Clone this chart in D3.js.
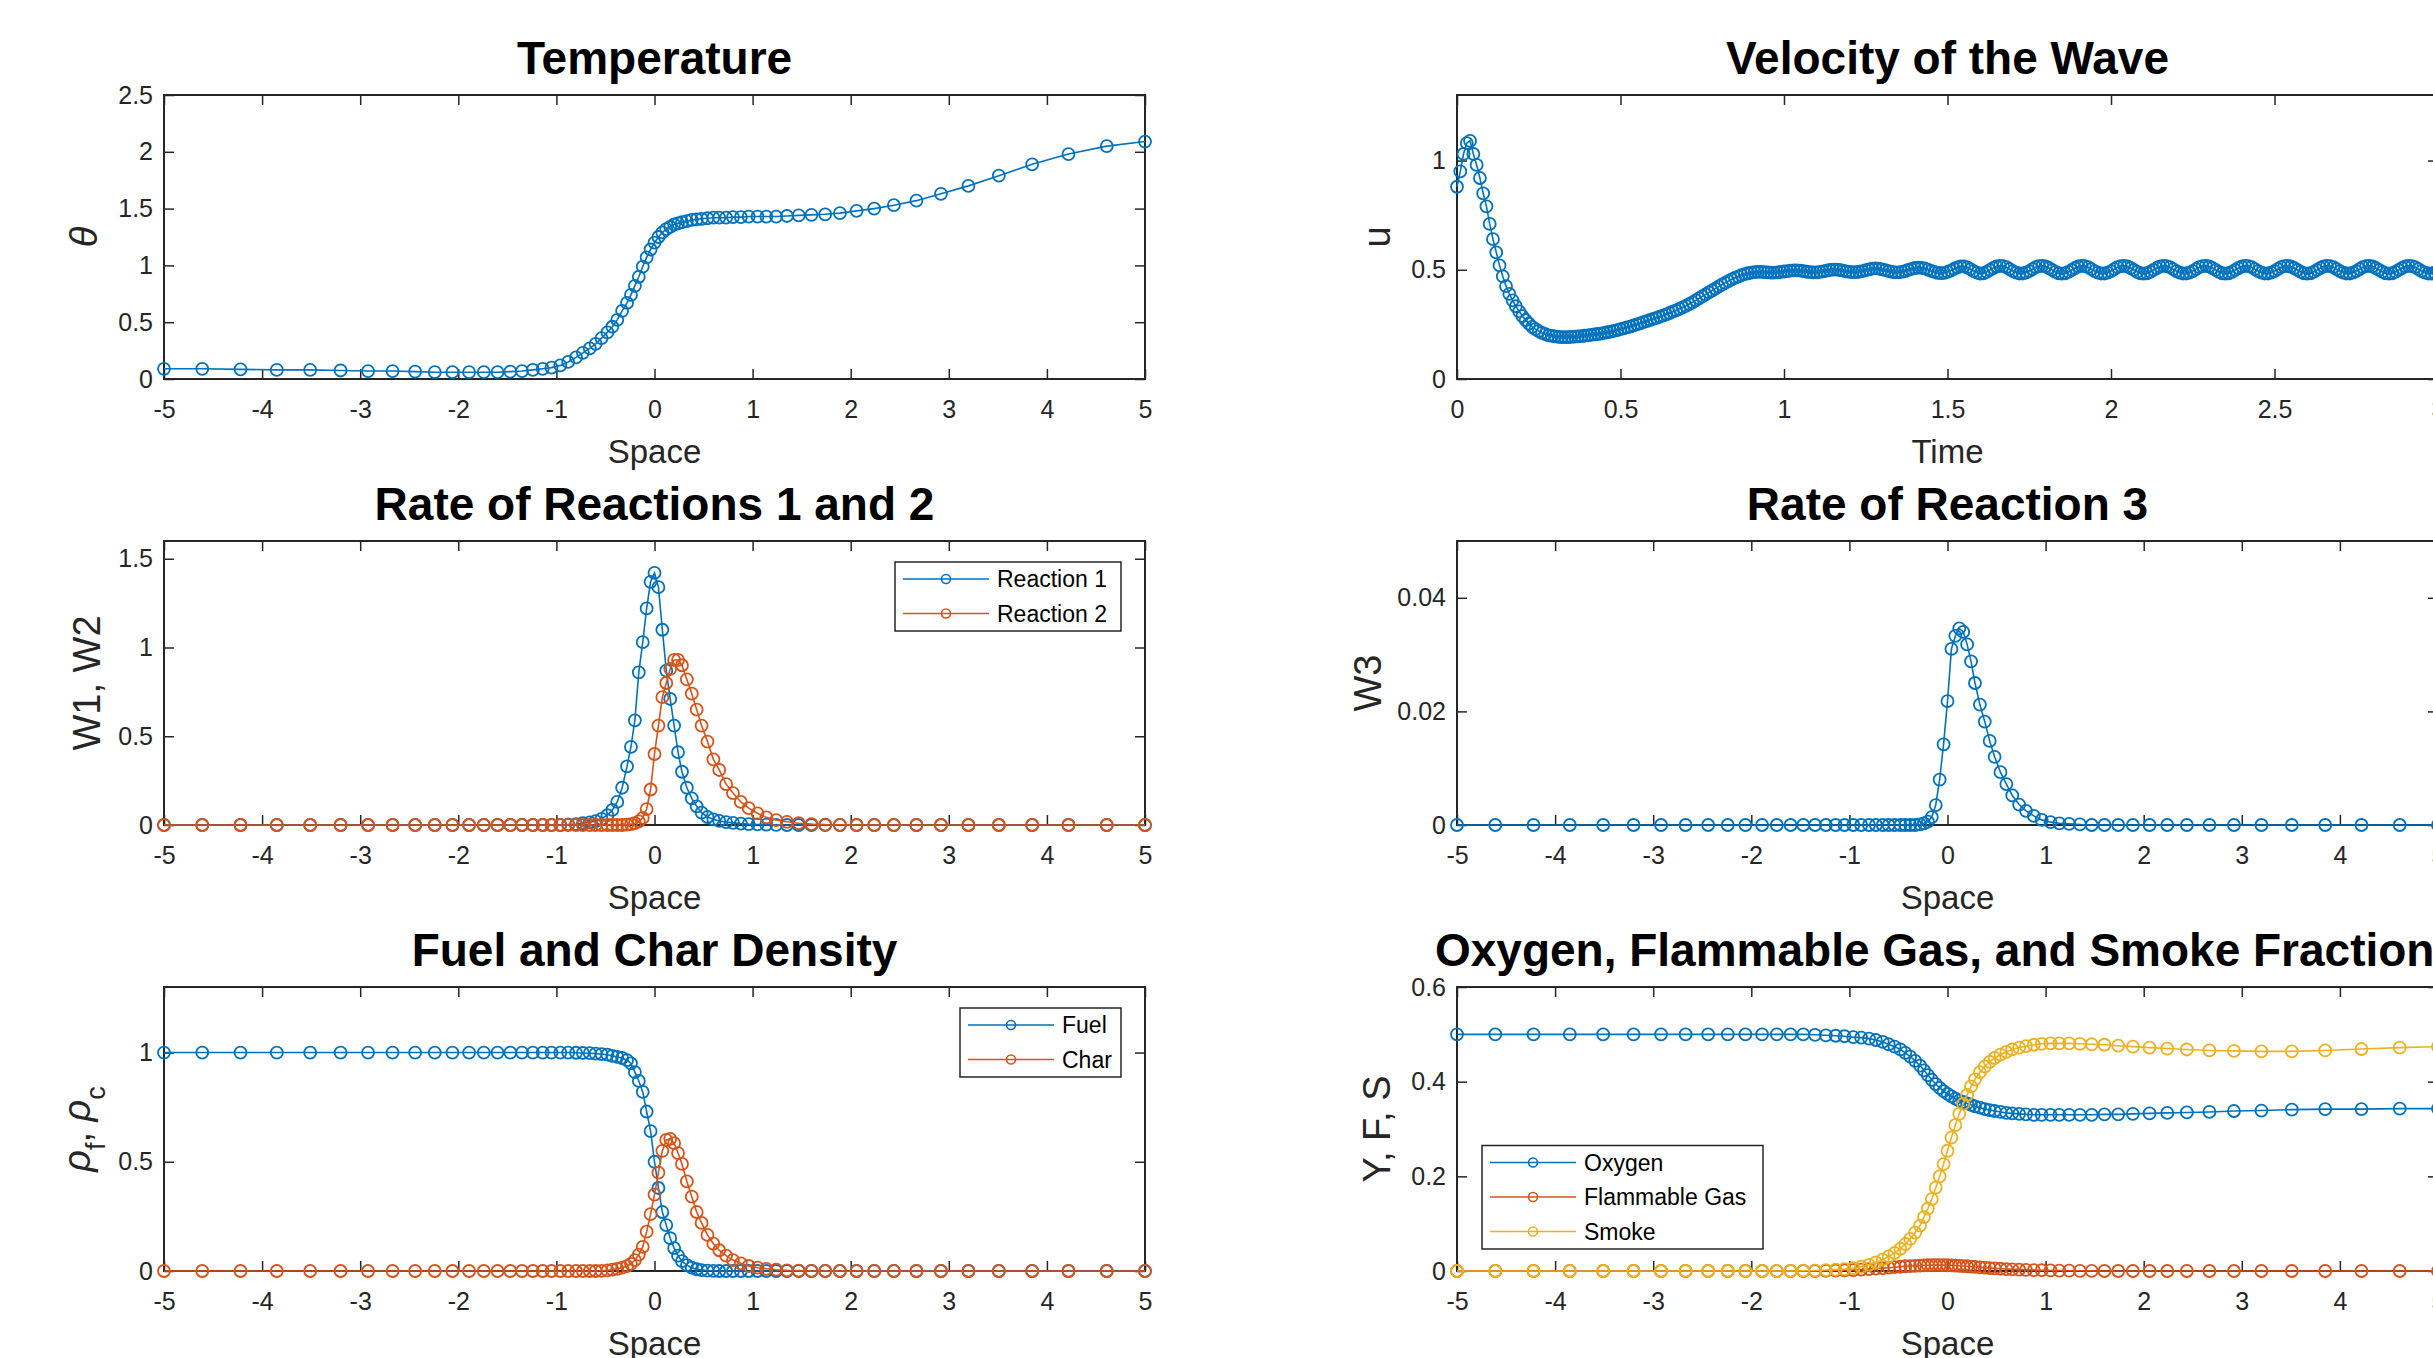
<!DOCTYPE html>
<html>
<head>
<meta charset="utf-8">
<script src="https://cdnjs.cloudflare.com/ajax/libs/d3/7.8.5/d3.min.js"></script>
<style>
body { margin: 0; background: #fff; }
svg text { font-family: "Liberation Sans", Arial, Helvetica, sans-serif; }
</style>
</head>
<body>
<script>
// 0.1 shared space grid (dense near the front)
var space = [-5, -4.61, -4.22, -3.85, -3.51, -3.2, -2.92, -2.67, -2.44, -2.24,
  -2.06, -1.89, -1.74, -1.6, -1.47, -1.35, -1.24, -1.14, -1.05, -0.96,
  -0.88, -0.8, -0.73, -0.66, -0.6, -0.54, -0.48, -0.43, -0.38, -0.33,
  -0.28, -0.24, -0.2, -0.16, -0.12, -0.08, -0.04, 0, 0.04, 0.08,
  0.12, 0.16, 0.2, 0.24, 0.28, 0.33, 0.38, 0.43, 0.48, 0.54,
  0.6, 0.66, 0.73, 0.8, 0.88, 0.96, 1.05, 1.14, 1.24, 1.35,
  1.47, 1.6, 1.74, 1.89, 2.06, 2.24, 2.44, 2.67, 2.92, 3.2,
  3.51, 3.85, 4.22, 4.61, 5];

// 0.2 series on the space grid
var theta = [0.09, 0.09, 0.085, 0.08, 0.08, 0.075, 0.07, 0.07, 0.065, 0.06,
  0.06, 0.06, 0.06, 0.06, 0.065, 0.07, 0.08, 0.09, 0.1, 0.12,
  0.15, 0.19, 0.23, 0.27, 0.31, 0.36, 0.41, 0.46, 0.52, 0.6,
  0.67, 0.74, 0.82, 0.9, 0.99, 1.07, 1.14, 1.2, 1.25, 1.29,
  1.32, 1.34, 1.36, 1.37, 1.38, 1.39, 1.4, 1.405, 1.41, 1.415,
  1.42, 1.42, 1.42, 1.425, 1.425, 1.43, 1.43, 1.43, 1.43, 1.435,
  1.44, 1.445, 1.45, 1.46, 1.48, 1.5, 1.53, 1.57, 1.63, 1.7,
  1.79, 1.89, 1.98, 2.05, 2.09];

var w1 = [0, 0, 0, 0, 0, 0, 0, 0, 0, 0,
  0, 0, 0, 0, 0, 0, 0, 0, 0, 0,
  0.003, 0.005, 0.01, 0.015, 0.022, 0.035, 0.055, 0.085, 0.13, 0.21,
  0.33, 0.44, 0.59, 0.86, 1.03, 1.22, 1.37, 1.42, 1.34, 1.1,
  0.87, 0.71, 0.56, 0.41, 0.3, 0.21, 0.15, 0.105, 0.07, 0.045,
  0.032, 0.023, 0.016, 0.012, 0.008, 0.005, 0.003, 0.002, 0.001, 0,
  0, 0, 0, 0, 0, 0, 0, 0, 0, 0,
  0, 0, 0, 0, 0];

var w2 = [0, 0, 0, 0, 0, 0, 0, 0, 0, 0,
  0, 0, 0, 0, 0, 0, 0, 0, 0, 0,
  0, 0, 0, 0, 0, 0, 0, 0, 0, 0,
  0.002, 0.005, 0.01, 0.02, 0.04, 0.09, 0.2, 0.4, 0.56, 0.72,
  0.8, 0.88, 0.93, 0.93, 0.9, 0.82, 0.74, 0.65, 0.56, 0.47,
  0.37, 0.31, 0.23, 0.18, 0.13, 0.095, 0.066, 0.043, 0.028, 0.018,
  0.01, 0.005, 0.002, 0.001, 0, 0, 0, 0, 0, 0,
  0, 0, 0, 0, 0];

var w3 = [0, 0, 0, 0, 0, 0, 0, 0, 0, 0,
  0, 0, 0, 0, 0, 0, 0, 0, 0, 0,
  0, 0, 0, 0, 0, 0, 0, 0, 0, 0,
  0.0001, 0.0003, 0.0006, 0.0014, 0.0035, 0.008, 0.0142, 0.0218, 0.031, 0.0333,
  0.0346, 0.034, 0.0318, 0.0288, 0.025, 0.0212, 0.0182, 0.0148, 0.012, 0.0093,
  0.0072, 0.0052, 0.0036, 0.0025, 0.0016, 0.0009, 0.0005, 0.0003, 0.0002, 0.0001,
  0, 0, 0, 0, 0, 0, 0, 0, 0, 0,
  0, 0, 0, 0, 0];

var fuel = [1, 1, 1, 1, 1, 1, 1, 1, 1, 1,
  1, 1, 1, 1, 1, 1, 1, 1, 1, 1,
  1, 0.999, 0.998, 0.997, 0.995, 0.993, 0.99, 0.985, 0.98, 0.975,
  0.965, 0.95, 0.91, 0.87, 0.82, 0.73, 0.64, 0.5, 0.38, 0.27,
  0.21, 0.15, 0.105, 0.07, 0.045, 0.027, 0.015, 0.008, 0.004, 0.002,
  0.001, 0, 0, 0, 0, 0, 0, 0, 0, 0,
  0, 0, 0, 0, 0, 0, 0, 0, 0, 0,
  0, 0, 0, 0, 0];

var char = [0, 0, 0, 0, 0, 0, 0, 0, 0, 0,
  0, 0, 0, 0, 0, 0, 0, 0, 0, 0,
  0, 0, 0, 0, 0, 0.001, 0.003, 0.006, 0.01, 0.015,
  0.022, 0.033, 0.05, 0.075, 0.11, 0.18, 0.26, 0.35, 0.45, 0.55,
  0.6, 0.605, 0.585, 0.54, 0.49, 0.41, 0.34, 0.27, 0.22, 0.165,
  0.125, 0.095, 0.07, 0.05, 0.035, 0.023, 0.015, 0.01, 0.006, 0.003,
  0.0015, 0, 0, 0, 0, 0, 0, 0, 0, 0,
  0, 0, 0, 0, 0];

var oxygen = [0.5, 0.5, 0.5, 0.5, 0.5, 0.5, 0.5, 0.5, 0.5, 0.5,
  0.5, 0.5, 0.5, 0.5, 0.5, 0.499, 0.498, 0.497, 0.496, 0.494,
  0.493, 0.491, 0.488, 0.484, 0.479, 0.474, 0.468, 0.461, 0.453, 0.444,
  0.434, 0.424, 0.414, 0.404, 0.395, 0.387, 0.38, 0.374, 0.369, 0.364,
  0.36, 0.357, 0.354, 0.351, 0.348, 0.345, 0.342, 0.34, 0.338, 0.336,
  0.334, 0.333, 0.332, 0.331, 0.33, 0.33, 0.33, 0.33, 0.33, 0.33,
  0.33, 0.331, 0.331, 0.332, 0.333, 0.334, 0.335, 0.336, 0.338, 0.339,
  0.341, 0.342, 0.342, 0.343, 0.343];

var flammable = [0, 0, 0, 0, 0, 0, 0, 0, 0, 0,
  0, 0, 0, 0, 0, 0, 0.0005, 0.001, 0.0015, 0.002,
  0.003, 0.004, 0.005, 0.006, 0.007, 0.008, 0.009, 0.01, 0.0105, 0.011,
  0.0115, 0.012, 0.0122, 0.0124, 0.0125, 0.0125, 0.0124, 0.0122, 0.012, 0.0115,
  0.011, 0.0105, 0.01, 0.0093, 0.0086, 0.0078, 0.007, 0.0062, 0.0055, 0.0048,
  0.0041, 0.0035, 0.003, 0.0025, 0.002, 0.0016, 0.0012, 0.0009, 0.0006, 0.0004,
  0.0002, 0, 0, 0, 0, 0, 0, 0, 0, 0,
  0, 0, 0, 0, 0];

var smoke = [0, 0, 0, 0, 0, 0, 0, 0, 0, 0,
  0, 0, 0, 0, 0.0005, 0.001, 0.002, 0.003, 0.004, 0.006,
  0.009, 0.013, 0.018, 0.024, 0.031, 0.038, 0.047, 0.057, 0.068, 0.081,
  0.096, 0.114, 0.132, 0.152, 0.176, 0.2, 0.226, 0.254, 0.282, 0.308,
  0.332, 0.353, 0.372, 0.39, 0.405, 0.42, 0.432, 0.442, 0.45, 0.457,
  0.463, 0.468, 0.472, 0.475, 0.478, 0.48, 0.481, 0.481, 0.481, 0.48,
  0.479, 0.478, 0.476, 0.474, 0.472, 0.47, 0.468, 0.466, 0.465, 0.464,
  0.464, 0.466, 0.469, 0.472, 0.474];

// 0.3 wave velocity against time
var time = [0, 0.01, 0.02, 0.03, 0.04, 0.05, 0.06, 0.07, 0.08, 0.09,
  0.1, 0.11, 0.12, 0.13, 0.14, 0.15, 0.16, 0.17, 0.18, 0.19,
  0.2, 0.21, 0.22, 0.23, 0.24, 0.25, 0.26, 0.27, 0.28, 0.29,
  0.3, 0.31, 0.32, 0.33, 0.34, 0.35, 0.36, 0.37, 0.38, 0.39,
  0.4, 0.41, 0.42, 0.43, 0.44, 0.45, 0.46, 0.47, 0.48, 0.49,
  0.5, 0.51, 0.52, 0.53, 0.54, 0.55, 0.56, 0.57, 0.58, 0.59,
  0.6, 0.61, 0.62, 0.63, 0.64, 0.65, 0.66, 0.67, 0.68, 0.69,
  0.7, 0.71, 0.72, 0.73, 0.74, 0.75, 0.76, 0.77, 0.78, 0.79,
  0.8, 0.81, 0.82, 0.83, 0.84, 0.85, 0.86, 0.87, 0.88, 0.89,
  0.9, 0.91, 0.92, 0.93, 0.94, 0.95, 0.96, 0.97, 0.98, 0.99,
  1, 1.01, 1.02, 1.03, 1.04, 1.05, 1.06, 1.07, 1.08, 1.09,
  1.1, 1.11, 1.12, 1.13, 1.14, 1.15, 1.16, 1.17, 1.18, 1.19,
  1.2, 1.21, 1.22, 1.23, 1.24, 1.25, 1.26, 1.27, 1.28, 1.29,
  1.3, 1.31, 1.32, 1.33, 1.34, 1.35, 1.36, 1.37, 1.38, 1.39,
  1.4, 1.41, 1.42, 1.43, 1.44, 1.45, 1.46, 1.47, 1.48, 1.49,
  1.5, 1.51, 1.52, 1.53, 1.54, 1.55, 1.56, 1.57, 1.58, 1.59,
  1.6, 1.61, 1.62, 1.63, 1.64, 1.65, 1.66, 1.67, 1.68, 1.69,
  1.7, 1.71, 1.72, 1.73, 1.74, 1.75, 1.76, 1.77, 1.78, 1.79,
  1.8, 1.81, 1.82, 1.83, 1.84, 1.85, 1.86, 1.87, 1.88, 1.89,
  1.9, 1.91, 1.92, 1.93, 1.94, 1.95, 1.96, 1.97, 1.98, 1.99,
  2, 2.01, 2.02, 2.03, 2.04, 2.05, 2.06, 2.07, 2.08, 2.09,
  2.1, 2.11, 2.12, 2.13, 2.14, 2.15, 2.16, 2.17, 2.18, 2.19,
  2.2, 2.21, 2.22, 2.23, 2.24, 2.25, 2.26, 2.27, 2.28, 2.29,
  2.3, 2.31, 2.32, 2.33, 2.34, 2.35, 2.36, 2.37, 2.38, 2.39,
  2.4, 2.41, 2.42, 2.43, 2.44, 2.45, 2.46, 2.47, 2.48, 2.49,
  2.5, 2.51, 2.52, 2.53, 2.54, 2.55, 2.56, 2.57, 2.58, 2.59,
  2.6, 2.61, 2.62, 2.63, 2.64, 2.65, 2.66, 2.67, 2.68, 2.69,
  2.7, 2.71, 2.72, 2.73, 2.74, 2.75, 2.76, 2.77, 2.78, 2.79,
  2.8, 2.81, 2.82, 2.83, 2.84, 2.85, 2.86, 2.87, 2.88, 2.89,
  2.9, 2.91, 2.92, 2.93, 2.94, 2.95, 2.96, 2.97, 2.98, 2.99,
  3];

var velocity = [
  // 0.00 - 0.99
  0.88, 0.95, 1.03, 1.08, 1.09, 1.03, 0.98, 0.92, 0.85, 0.79,
  0.71, 0.64, 0.58, 0.52, 0.47, 0.425, 0.39, 0.36, 0.333, 0.31,
  0.288, 0.27, 0.253, 0.239, 0.228, 0.219, 0.211, 0.205, 0.2, 0.197,
  0.195, 0.193, 0.192, 0.192, 0.192, 0.193, 0.194, 0.195, 0.196, 0.198,
  0.2, 0.202, 0.204, 0.206, 0.208, 0.211, 0.214, 0.217, 0.22, 0.224,
  0.228, 0.232, 0.236, 0.24, 0.245, 0.25, 0.255, 0.26, 0.265, 0.27,
  0.275, 0.28, 0.285, 0.29, 0.296, 0.302, 0.308, 0.314, 0.321, 0.328,
  0.335, 0.343, 0.351, 0.36, 0.369, 0.378, 0.387, 0.396, 0.405, 0.414,
  0.423, 0.432, 0.44, 0.448, 0.456, 0.463, 0.469, 0.475, 0.48, 0.484,
  0.487, 0.489, 0.49, 0.49, 0.489, 0.488, 0.487, 0.487, 0.488, 0.49,
  // 1.00 - 1.59
  0.492, 0.494, 0.496, 0.497, 0.497, 0.496, 0.494, 0.491, 0.489, 0.488,
  0.488, 0.49, 0.493, 0.496, 0.499, 0.501, 0.501, 0.499, 0.496, 0.493,
  0.49, 0.489, 0.489, 0.491, 0.494, 0.498, 0.502, 0.505, 0.506, 0.505,
  0.502, 0.498, 0.494, 0.49, 0.488, 0.488, 0.49, 0.494, 0.499, 0.504,
  0.508, 0.51, 0.509, 0.506, 0.501, 0.495, 0.49, 0.486, 0.485, 0.486,
  0.49, 0.496, 0.504, 0.511, 0.515, 0.515, 0.511, 0.503, 0.494, 0.487,
  // 1.60 - 1.84
  0.482, 0.484, 0.49, 0.499, 0.508, 0.515, 0.518, 0.517, 0.512, 0.503, 0.494, 0.487, 0.483,
  0.483, 0.487, 0.494, 0.503, 0.512, 0.517, 0.518, 0.515, 0.508, 0.499, 0.49, 0.484,
  // 1.85 - 2.09
  0.482, 0.484, 0.49, 0.499, 0.508, 0.515, 0.518, 0.517, 0.512, 0.503, 0.494, 0.487, 0.483,
  0.483, 0.487, 0.494, 0.503, 0.512, 0.517, 0.518, 0.515, 0.508, 0.499, 0.49, 0.484,
  // 2.10 - 2.34
  0.482, 0.484, 0.49, 0.499, 0.508, 0.515, 0.518, 0.517, 0.512, 0.503, 0.494, 0.487, 0.483,
  0.483, 0.487, 0.494, 0.503, 0.512, 0.517, 0.518, 0.515, 0.508, 0.499, 0.49, 0.484,
  // 2.35 - 2.59
  0.482, 0.484, 0.49, 0.499, 0.508, 0.515, 0.518, 0.517, 0.512, 0.503, 0.494, 0.487, 0.483,
  0.483, 0.487, 0.494, 0.503, 0.512, 0.517, 0.518, 0.515, 0.508, 0.499, 0.49, 0.484,
  // 2.60 - 2.84
  0.482, 0.484, 0.49, 0.499, 0.508, 0.515, 0.518, 0.517, 0.512, 0.503, 0.494, 0.487, 0.483,
  0.483, 0.487, 0.494, 0.503, 0.512, 0.517, 0.518, 0.515, 0.508, 0.499, 0.49, 0.484,
  // 2.85 - 3.00
  0.482, 0.484, 0.49, 0.499, 0.508, 0.515, 0.518, 0.517, 0.512, 0.503, 0.494, 0.487, 0.483,
  0.483, 0.487, 0.494];

// 0.4 ticks
var spaceTicks = [-5, -4, -3, -2, -1, 0, 1, 2, 3, 4, 5];
var timeTicks = [0, 0.5, 1, 1.5, 2, 2.5, 3];

// 1. figure layout
var blue = '#0072BD', orange = '#D95319', yellow = '#EDB120';
var axisColor = '#262626';
var plotW = 981, plotH = 284, tickLen = 10, markerR = 6;
var colLeft = [164, 1457];
var rowTop = [95, 541, 987];

var svg = d3.select('body').append('svg')
  .attr('width', 2433)
  .attr('height', 1358)
  .style('display', 'block');
svg.append('rect').attr('width', 2433).attr('height', 1358).attr('fill', '#fff');

function drawPanel(p) {
  var g = svg.append('g').attr('transform', 'translate(' + p.left + ',' + p.top + ')');
  var x = d3.scaleLinear().domain(p.xDomain).range([0, plotW]);
  var y = d3.scaleLinear().domain(p.yDomain).range([plotH, 0]);
  var fmt = function (d) { return String(d); };

  // 1.1 inward ticks on four sides
  g.append('g').attr('transform', 'translate(0,' + plotH + ')')
    .call(d3.axisBottom(x).tickValues(p.xTicks).tickFormat(fmt).tickSizeInner(-tickLen).tickSizeOuter(0).tickPadding(21));
  g.append('g')
    .call(d3.axisTop(x).tickValues(p.xTicks).tickFormat('').tickSizeInner(-tickLen).tickSizeOuter(0));
  g.append('g')
    .call(d3.axisLeft(y).tickValues(p.yTicks).tickFormat(fmt).tickSizeInner(-tickLen).tickSizeOuter(0).tickPadding(11));
  g.append('g').attr('transform', 'translate(' + plotW + ',0)')
    .call(d3.axisRight(y).tickValues(p.yTicks).tickFormat('').tickSizeInner(-tickLen).tickSizeOuter(0));
  g.selectAll('.domain').remove();
  g.selectAll('.tick line').attr('stroke', axisColor).attr('stroke-width', 1.5);
  g.selectAll('.tick text').attr('fill', axisColor).style('font-size', '25px');

  // 1.2 the axes box
  g.append('rect')
    .attr('width', plotW).attr('height', plotH)
    .attr('fill', 'none').attr('stroke', axisColor).attr('stroke-width', 2);

  // 1.3 lines with circle markers
  p.series.forEach(function (s) {
    var pts = s.x.map(function (xv, i) { return [xv, s.y[i]]; });
    g.append('path').datum(pts)
      .attr('fill', 'none').attr('stroke', s.color).attr('stroke-width', 1.6)
      .attr('d', d3.line().x(function (d) { return x(d[0]); }).y(function (d) { return y(d[1]); }));
    g.append('g').selectAll('circle').data(pts).join('circle')
      .attr('cx', function (d) { return x(d[0]); })
      .attr('cy', function (d) { return y(d[1]); })
      .attr('r', markerR)
      .attr('fill', 'none').attr('stroke', s.color).attr('stroke-width', 1.8);
  });

  // 1.4 title and labels
  g.append('text')
    .attr('x', plotW / 2).attr('y', -21)
    .attr('text-anchor', 'middle')
    .style('font-size', '46px').style('font-weight', 'bold').attr('fill', '#000')
    .text(p.title);
  g.append('text')
    .attr('x', plotW / 2).attr('y', plotH + 84)
    .attr('text-anchor', 'middle')
    .style('font-size', '33px').attr('fill', axisColor)
    .text(p.xLabel);
  var yl = g.append('text')
    .attr('transform', 'translate(' + p.yLabelX + ',' + (plotH / 2) + ') rotate(-90)')
    .attr('text-anchor', 'middle')
    .style('font-size', '38px').attr('fill', axisColor);
  p.yLabel.forEach(function (part) {
    var t = yl.append('tspan').text(part.text);
    if (part.italic) t.style('font-style', 'italic');
    if (part.sub) t.attr('baseline-shift', 'sub').style('font-size', '27px');
  });

  // 1.5 legend
  if (p.legend) {
    var L = p.legend, rowH = 34.5;
    var lg = g.append('g').attr('transform', 'translate(' + L.x + ',' + L.y + ')');
    lg.append('rect')
      .attr('width', L.width).attr('height', rowH * p.series.length)
      .attr('fill', '#fff').attr('stroke', axisColor).attr('stroke-width', 1.5);
    p.series.forEach(function (s, i) {
      var cy = 17 + rowH * i;
      lg.append('line').attr('x1', 8).attr('x2', 94).attr('y1', cy).attr('y2', cy)
        .attr('stroke', s.color).attr('stroke-width', 1.6);
      lg.append('circle').attr('cx', 51).attr('cy', cy).attr('r', 4.5)
        .attr('fill', 'none').attr('stroke', s.color).attr('stroke-width', 1.6);
      lg.append('text').attr('x', 102).attr('y', cy).attr('dy', '0.35em')
        .style('font-size', '23px').attr('fill', '#000')
        .text(s.name);
    });
  }
}

// 2. the six panels
drawPanel({
  left: colLeft[0], top: rowTop[0], title: 'Temperature',
  xDomain: [-5, 5], xTicks: spaceTicks, yDomain: [0, 2.5], yTicks: [0, 0.5, 1, 1.5, 2, 2.5],
  xLabel: 'Space', yLabel: [{ text: 'θ', italic: true }], yLabelX: 97 - colLeft[0],
  series: [{ x: space, y: theta, color: blue }]
});
drawPanel({
  left: colLeft[1], top: rowTop[0], title: 'Velocity of the Wave',
  xDomain: [0, 3], xTicks: timeTicks, yDomain: [0, 1.3], yTicks: [0, 0.5, 1],
  xLabel: 'Time', yLabel: [{ text: 'u' }], yLabelX: 1390 - colLeft[1],
  series: [{ x: time, y: velocity, color: blue }]
});
drawPanel({
  left: colLeft[0], top: rowTop[1], title: 'Rate of Reactions 1 and 2',
  xDomain: [-5, 5], xTicks: spaceTicks, yDomain: [0, 1.6], yTicks: [0, 0.5, 1, 1.5],
  xLabel: 'Space', yLabel: [{ text: 'W1, W2' }], yLabelX: 100 - colLeft[0],
  series: [{ x: space, y: w1, color: blue, name: 'Reaction 1' },
           { x: space, y: w2, color: orange, name: 'Reaction 2' }],
  legend: { x: 731, y: 21, width: 226 }
});
drawPanel({
  left: colLeft[1], top: rowTop[1], title: 'Rate of Reaction 3',
  xDomain: [-5, 5], xTicks: spaceTicks, yDomain: [0, 0.05], yTicks: [0, 0.02, 0.04],
  xLabel: 'Space', yLabel: [{ text: 'W3' }], yLabelX: 1381 - colLeft[1],
  series: [{ x: space, y: w3, color: blue }]
});
drawPanel({
  left: colLeft[0], top: rowTop[2], title: 'Fuel and Char Density',
  xDomain: [-5, 5], xTicks: spaceTicks, yDomain: [0, 1.3], yTicks: [0, 0.5, 1],
  xLabel: 'Space',
  yLabel: [{ text: 'ρ', italic: true }, { text: 'f', sub: true }, { text: ', ' },
           { text: 'ρ', italic: true }, { text: 'c', sub: true }],
  yLabelX: 90 - colLeft[0],
  series: [{ x: space, y: fuel, color: blue, name: 'Fuel' },
           { x: space, y: char, color: orange, name: 'Char' }],
  legend: { x: 796, y: 21, width: 161 }
});
drawPanel({
  left: colLeft[1], top: rowTop[2], title: 'Oxygen, Flammable Gas, and Smoke Fractions',
  xDomain: [-5, 5], xTicks: spaceTicks, yDomain: [0, 0.6], yTicks: [0, 0.2, 0.4, 0.6],
  xLabel: 'Space', yLabel: [{ text: 'Y, F, S' }], yLabelX: 1390 - colLeft[1],
  series: [{ x: space, y: oxygen, color: blue, name: 'Oxygen' },
           { x: space, y: flammable, color: orange, name: 'Flammable Gas' },
           { x: space, y: smoke, color: yellow, name: 'Smoke' }],
  legend: { x: 25, y: 158.5, width: 281 }
});
</script>
</body>
</html>
